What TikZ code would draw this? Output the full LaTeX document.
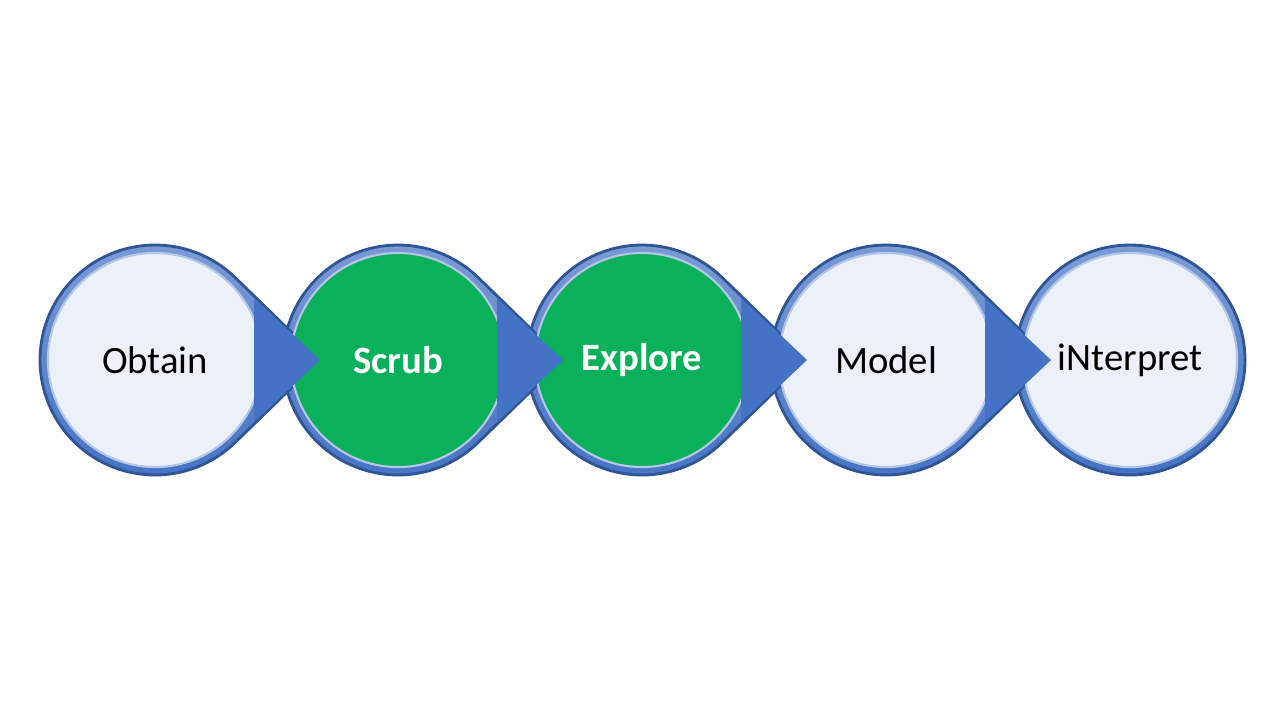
\documentclass[tikz,border=0pt]{standalone}
\usepackage{fontspec}
\setmainfont{Carlito}
\definecolor{rimblue}{HTML}{4472C4}
\definecolor{rimdark}{HTML}{2F5597}
\definecolor{pale}{HTML}{EBF0F9}
\definecolor{scrubgreen}{HTML}{0BB05A}
\begin{document}
\begin{tikzpicture}
        [x=0.01cm,y=0.01cm,
         drop_style/.style={draw=rimdark,line width=0.8pt,top color=rimblue!70!white,bottom color=rimblue,shading angle=0},
         step_style/.style={circle,minimum size=2.14cm,inner sep=0pt,draw=rimblue!40!white,line width=0.6pt,font=\fontsize{11}{13}\selectfont},
         step_plain/.style={step_style,fill=pale,text=black},
         step_green/.style={step_style,fill=scrubgreen,text=white,font=\fontsize{11}{13}\selectfont\bfseries}]
    \useasboundingbox (0,0) rectangle (1280,720);
    % last step has no tip
    \draw[drop_style] (1130,360) circle (115);
    % drop shapes, right to left so each tip lies over the next circle
    \foreach \cx in {886,642,398,155}
        \draw[drop_style] (\cx+165,360) -- ([shift={(\cx,360)}]45.8:115) arc (45.8:314.2:115) -- cycle;
    \node[step_plain] (obtain) at (155,360) {Obtain};
    \node[step_green] (scrub) at (398,360) {Scrub};
    \node[step_green] (explore) at (642,360) {Explore};
    \node[step_plain] (model) at (886,360) {Model};
    \node[step_plain] (interpret) at (1130,360) {iNterpret};
    % tips again on top of the following circle
    \foreach \cx in {155,398,642,886}
        \fill[rimblue] (\cx+165,360) -- ([shift={(\cx,360)}]32:117) -- ([shift={(\cx,360)}]-32:117) -- cycle;
\end{tikzpicture}
\end{document}
